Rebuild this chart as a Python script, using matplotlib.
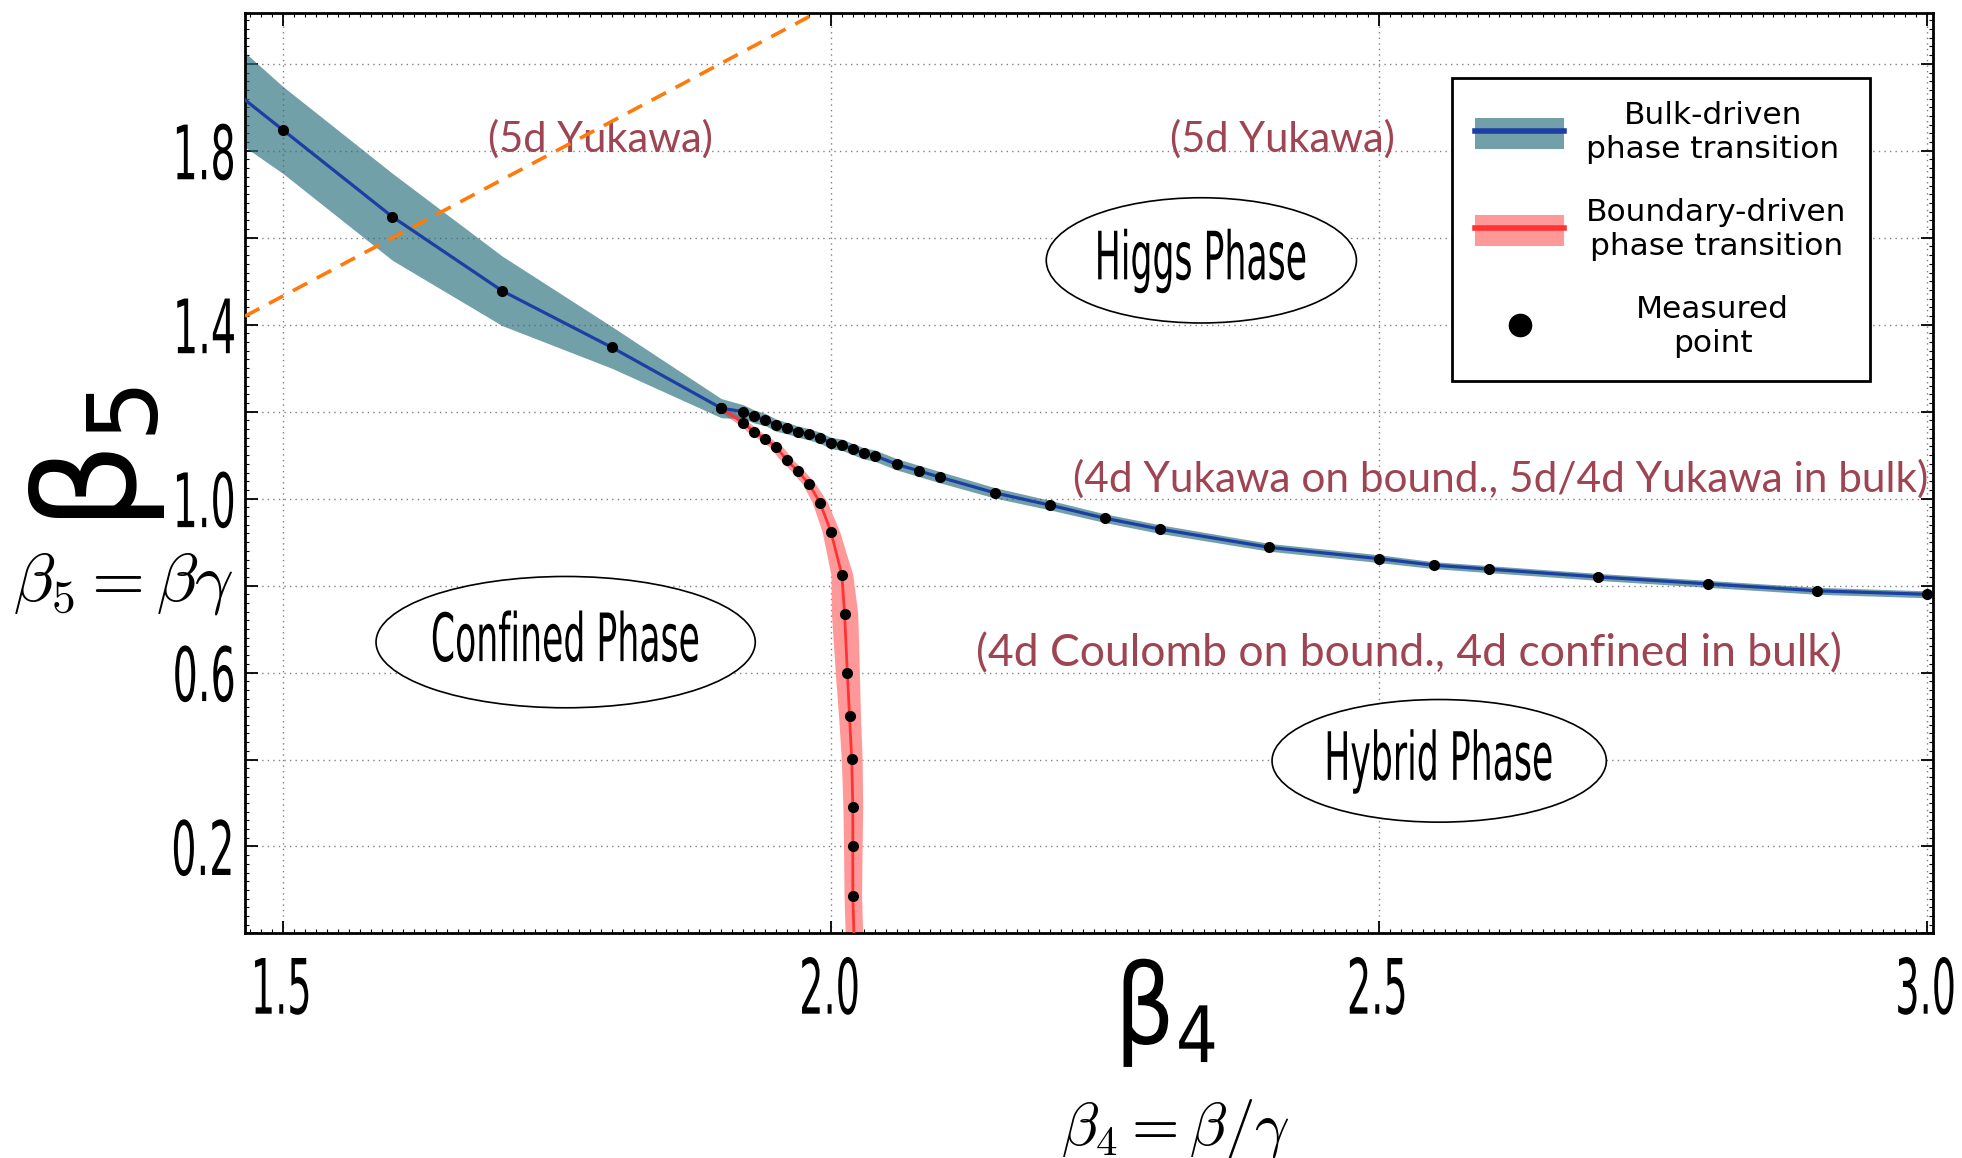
import numpy as np
import matplotlib
matplotlib.use('Agg')
import matplotlib.pyplot as plt
import matplotlib.patheffects as pe
from matplotlib.patches import Ellipse, Patch
from matplotlib.lines import Line2D
from matplotlib.transforms import Affine2D
from matplotlib.ticker import MultipleLocator

# bulk-driven transition (blue curve), error is in beta5
bulk_b4 = [1.50, 1.60, 1.70, 1.80, 1.90, 1.92, 1.93, 1.94, 1.95, 1.96, 1.97, 1.98, 1.99,
           2.00, 2.01, 2.02, 2.03, 2.04, 2.06, 2.08, 2.10, 2.15, 2.20, 2.25, 2.30, 2.40,
           2.50, 2.55, 2.60, 2.70, 2.80, 2.90, 3.00]
bulk_b5 = [1.848, 1.648, 1.478, 1.348, 1.208, 1.200, 1.189, 1.182, 1.169, 1.162, 1.154,
           1.148, 1.140, 1.128, 1.124, 1.114, 1.104, 1.099, 1.079, 1.064, 1.049, 1.013,
           0.985, 0.955, 0.930, 0.888, 0.862, 0.847, 0.838, 0.820, 0.804, 0.788, 0.780]
bulk_err = [0.100, 0.100, 0.080, 0.048, 0.022, 0.016, 0.015, 0.014, 0.014, 0.013, 0.013,
            0.013, 0.013, 0.013, 0.013, 0.013, 0.013, 0.013, 0.013, 0.013, 0.013, 0.012,
            0.011, 0.010, 0.010, 0.009, 0.009, 0.008, 0.008, 0.008, 0.008, 0.008, 0.008]
# the curve runs on past the left frame
bulk_ext_b4 = [1.46]
bulk_ext_b5 = [1.928]
bulk_ext_err = [0.110]

# boundary-driven transition (red curve), error is in beta4
bound_b4 = [1.900, 1.920, 1.930, 1.940, 1.950, 1.960, 1.970, 1.980, 1.990, 2.000, 2.010,
            2.0125, 2.015, 2.017, 2.019, 2.020, 2.020, 2.020]
bound_b5 = [1.208, 1.174, 1.154, 1.137, 1.119, 1.088, 1.063, 1.034, 0.991, 0.924, 0.825,
            0.735, 0.600, 0.500, 0.401, 0.290, 0.202, 0.087]
bound_err = [0.006, 0.006, 0.006, 0.006, 0.006, 0.006, 0.006, 0.006, 0.007, 0.008, 0.010,
             0.012, 0.011, 0.010, 0.0095, 0.009, 0.0085, 0.008]
# ... and down through the bottom frame
bound_ext_b4 = [2.021]
bound_ext_b5 = [0.0]
bound_ext_err = [0.008]

# dashed orange line
yuk_b4 = [1.40, 2.10]
yuk_b5 = [1.332, 2.269]

# region notes
notes = ['(5d Yukawa)', '(5d Yukawa)',
         '(4d Yukawa on bound., 5d/4d Yukawa in bulk)',
         '(4d Coulomb on bound., 4d confined in bulk)']
notes_b4 = [1.790, 2.412, 2.611, 2.527]
notes_b5 = [1.827, 1.827, 1.045, 0.642]
notes_size = [30, 30, 30.5, 32]

# phases in ellipses
phases = ['Higgs Phase', 'Confined Phase', 'Hybrid Phase']
phases_b4 = [2.338, 1.758, 2.555]
phases_b5 = [1.548, 0.670, 0.397]
phases_w = [0.283, 0.346, 0.305]
phases_h = [0.288, 0.302, 0.282]

x_ticks = [1.5, 2.0, 2.5, 3.0]
x_ticklabels = ['1.5', '2.0', '2.5', '3.0']
y_ticks = [0.0, 0.2, 0.4, 0.6, 0.8, 1.0, 1.2, 1.4, 1.6, 1.8, 2.0]
y_ticklabels = ['', '0.2', '', '0.6', '', '1.0', '', '1.4', '', '1.8', '']

legend_labels = ['Bulk-driven\nphase transition', 'Boundary-driven\nphase transition',
                 'Measured\npoint']

teal = '#2d717d'       # with alpha .67 on white -> #72a0a8
teal_flat = '#72a0a8'
blue = '#1c3fa4'
red_band = '#ff9999'
red = '#ff3333'
orange = '#ff7a0a'
note_col = '#9e4452'


class Squeeze(pe.AbstractPathEffect):
    """draw text narrower than the font, like a condensed face"""
    def __init__(self, sx, anchor='center'):
        super().__init__()
        self.sx = sx
        self.anchor = anchor

    def draw_path(self, renderer, gc, tpath, affine, rgbFace=None):
        x0, x1 = tpath.vertices[:, 0].min(), tpath.vertices[:, 0].max()
        xa = {'left': x0, 'center': 0.5 * (x0 + x1), 'right': x1}[self.anchor]
        t = Affine2D().translate(-xa, 0).scale(self.sx, 1).translate(xa, 0)
        renderer.draw_path(gc, tpath, t + affine, rgbFace)


fig = plt.figure(figsize=(19.62, 11.58), dpi=100)
ax = fig.add_axes([0.1249, 0.1939, 0.8603, 0.7953])

# bands
bx = np.r_[bulk_ext_b4, bulk_b4]; by = np.r_[bulk_ext_b5, bulk_b5]; be = np.r_[bulk_ext_err, bulk_err]
rx = np.r_[bound_b4, bound_ext_b4]; ry = np.r_[bound_b5, bound_ext_b5]; re = np.r_[bound_err, bound_ext_err]
ax.fill_betweenx(ry, rx - re, rx + re, color=red_band, lw=0, zorder=2)
ax.fill_between(bx, by - be, by + be, color=teal, alpha=0.67, lw=0, zorder=2.1)
ax.plot(bx, by, color=blue, lw=2.3, zorder=3)
ax.plot(rx, ry, color=red, lw=2.0, zorder=3)
ax.plot(bulk_b4, bulk_b5, 'o', color='black', ms=7, zorder=4)
ax.plot(bound_b4, bound_b5, 'o', color='black', ms=7, zorder=4)

# notes, then the dashed line on top of them
for s, x, y, fs in zip(notes, notes_b4, notes_b5, notes_size):
    ax.text(x, y, s, color=note_col, fontsize=fs, family='Lato', ha='center', va='center', zorder=3.5)
ax.plot(yuk_b4, yuk_b5, color=orange, lw=2.6, ls=(0, (4.5, 3)), zorder=4.5)

for s, x, y, w, h in zip(phases, phases_b4, phases_b5, phases_w, phases_h):
    ax.add_patch(Ellipse((x, y), w, h, facecolor='white', edgecolor='black', lw=1.2, zorder=3))
    ax.text(x, y, s, fontsize=48, ha='center', va='center', zorder=3.5,
            path_effects=[Squeeze(0.52)])

ax.set_xlim(1.4655, 3.0055)
ax.set_ylim(0, 2.118)
ax.set_xticks(x_ticks, x_ticklabels, fontsize=55)
ax.set_yticks(y_ticks, y_ticklabels, fontsize=54)
ax.xaxis.set_minor_locator(MultipleLocator(0.01))
ax.yaxis.set_minor_locator(MultipleLocator(0.02))
ax.tick_params(which='both', direction='in', top=True, right=True)
ax.tick_params(which='major', length=9, width=1.3)
ax.tick_params(which='minor', length=3, width=0.8)
ax.tick_params(axis='x', pad=16)
ax.tick_params(axis='y', pad=5)
for lbl in ax.get_xticklabels():
    lbl.set_path_effects([Squeeze(0.5)])
for lbl in ax.get_yticklabels():
    lbl.set_path_effects([Squeeze(0.53, 'right')])
ax.grid(True, which='major', color='0.5', lw=1.0, ls=(0, (1, 3)))
for sp in ax.spines.values():
    sp.set_linewidth(2.0)

# axis labels
fig.text(0.0495, 0.604, r'$\mathrm{\beta}_5$', rotation=90, fontsize=100, ha='center', va='center')
fig.text(0.0627, 0.496, r'$\beta_5 = \beta\gamma$', fontsize=49, math_fontfamily='cm',
         ha='center', va='center')
fig.text(0.594, 0.125, r'$\mathrm{\beta}_4$', fontsize=80, ha='center', va='center',
         path_effects=[Squeeze(0.85)])
fig.text(0.599, 0.025, r'$\beta_4 = \beta/\gamma$', fontsize=44, math_fontfamily='cm',
         ha='center', va='center')

# legend
h_bulk = (Patch(facecolor=teal_flat, edgecolor='none'), Line2D([], [], color=blue, lw=4))
h_bound = (Patch(facecolor=red_band, edgecolor='none'), Line2D([], [], color=red, lw=4))
h_point = Line2D([], [], ls='none', marker='o', color='black', ms=16)
leg = ax.legend([h_bulk, h_bound, h_point], legend_labels, loc='upper right',
                bbox_to_anchor=(0.9627, 0.9289), borderaxespad=0, fontsize=22.5,
                handlelength=2.85, handleheight=1.15, handletextpad=0.7, labelspacing=1.1,
                borderpad=0.75, fancybox=False, framealpha=1, edgecolor='black')
leg.get_frame().set_linewidth(2.0)
leg.set_zorder(6)
texts = leg.get_texts()
for t in texts:
    t.set_multialignment('center')
r = fig.canvas.get_renderer()
w_ref = texts[0].get_window_extent(r).width
w_pt = texts[2].get_window_extent(r).width
texts[2].set_x((w_ref - w_pt) / 2)

fig.savefig('out.png', dpi=100)
